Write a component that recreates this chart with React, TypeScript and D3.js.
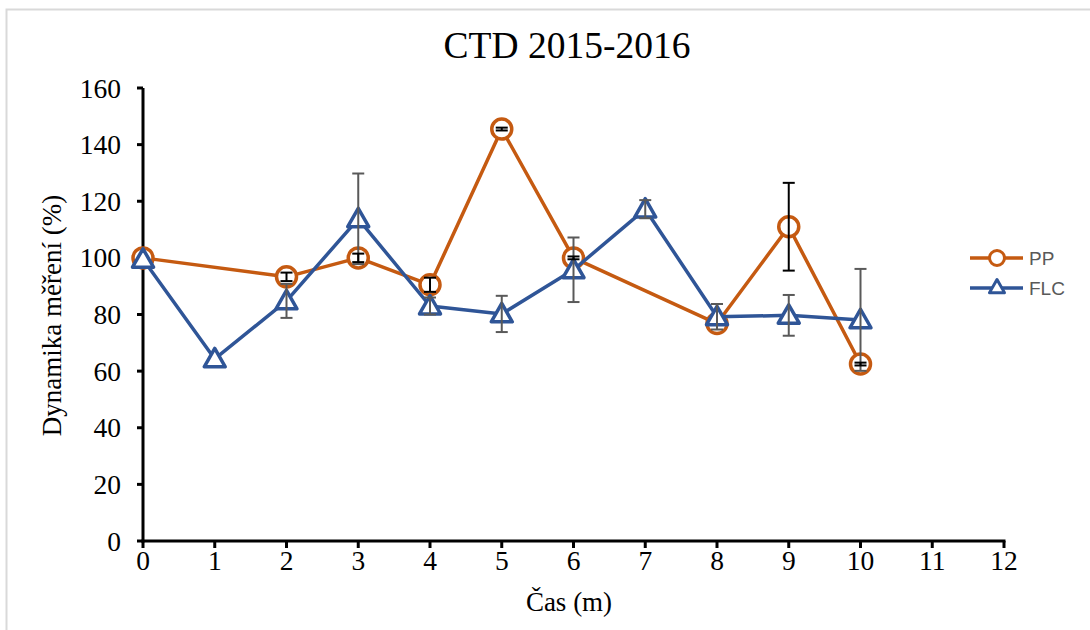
import React from "react";
import * as d3 from "d3";

const xTicks = [0, 1, 2, 3, 4, 5, 6, 7, 8, 9, 10, 11, 12];
const yTicks = [0, 20, 40, 60, 80, 100, 120, 140, 160];

const ppX = [0, 2, 3, 4, 5, 6, 8, 9, 10];
const ppY = [100, 93.3, 100, 90.5, 145.5, 100, 76.8, 111, 62.5];
const ppErr = [0, 1.5, 1.5, 2.5, 0.5, 0.5, 0, 15.5, 0.5];

const flcX = [0, 1, 2, 3, 4, 5, 6, 7, 8, 9, 10];
const flcY = [99.5, 64.3, 84.8, 113.8, 83, 80.2, 95.8, 117.2, 79.2, 79.7, 78.1];
const flcErr = [0, 0, 6, 16, 3, 6.4, 11.4, 3.2, 4.5, 7.2, 18];

const W = 1090, H = 630;
const left = 143, right = 1004, top = 88, bottom = 541;

export default function App() {
  const x = d3.scaleLinear().domain([0, 12]).range([left, right]);
  const y = d3.scaleLinear().domain([0, 160]).range([bottom, top]);
  const line = d3.line<[number, number]>().x(d => x(d[0])).y(d => y(d[1]));
  const pp = ppX.map((v, i) => [v, ppY[i]] as [number, number]);
  const flc = flcX.map((v, i) => [v, flcY[i]] as [number, number]);
  const orange = "#C55A11";
  const blue = "#2F5597";
  const tri = (cx: number, cy: number, s = 10.5) =>
    `M${cx},${cy - s} L${cx + s},${cy + s * 0.75} L${cx - s},${cy + s * 0.75} Z`;
  const errBar = (xv: number, yv: number, e: number, color: string, key: string) => {
    if (!e) return null;
    const px = x(xv);
    return (
      <g key={key} stroke={color} strokeWidth={2}>
        <line x1={px} x2={px} y1={y(yv + e)} y2={y(yv - e)} />
        <line x1={px - 6} x2={px + 6} y1={y(yv + e)} y2={y(yv + e)} />
        <line x1={px - 6} x2={px + 6} y1={y(yv - e)} y2={y(yv - e)} />
      </g>
    );
  };
  const serif = "Liberation Serif, Times New Roman, serif";
  return (
    <svg width={W} height={H} style={{ position: "absolute", left: 0, top: 0, display: "block" }}>
      <rect x={0} y={0} width={W} height={H} fill="#fff" />
      <rect x={6.5} y={9.5} width={1200} height={800} fill="#fff" stroke="#d9d9d9" strokeWidth={2} />
      <text x={567} y={58} textAnchor="middle" fontFamily={serif} fontSize={37.5} fill="#000">CTD 2015-2016</text>
      {yTicks.map(t => (
        <g key={"y" + t}>
          <line x1={left - 6} x2={left} y1={y(t)} y2={y(t)} stroke="#000" strokeWidth={3} />
          <text x={121} y={y(t) + 9.5} textAnchor="end" fontFamily={serif} fontSize={27.5} fill="#000">{t}</text>
        </g>
      ))}
      {xTicks.map(t => (
        <g key={"x" + t}>
          <line x1={x(t)} x2={x(t)} y1={bottom} y2={bottom + 7} stroke="#000" strokeWidth={3} />
          <text x={x(t)} y={bottom + 29} textAnchor="middle" fontFamily={serif} fontSize={27.5} fill="#000">{t}</text>
        </g>
      ))}
      <line x1={left} x2={left} y1={top} y2={bottom + 1.5} stroke="#000" strokeWidth={3} />
      <line x1={left - 1.5} x2={right + 1.5} y1={bottom} y2={bottom} stroke="#000" strokeWidth={3} />
      <text x={569} y={611} textAnchor="middle" fontFamily={serif} fontSize={27} fill="#000">Čas (m)</text>
      <text transform={`translate(61,${(top + bottom) / 2 + 1}) rotate(-90)`} textAnchor="middle" fontFamily={serif} fontSize={27} fill="#000">Dynamika měření (%)</text>

      <path d={line(pp) || ""} fill="none" stroke={orange} strokeWidth={3.5} strokeLinejoin="round" />
      {pp.map((d, i) => (
        <circle key={"pc" + i} cx={x(d[0])} cy={y(d[1])} r={10} fill="#fff" stroke={orange} strokeWidth={3.5} />
      ))}
      <path d={line(flc) || ""} fill="none" stroke={blue} strokeWidth={3.5} strokeLinejoin="round" />
      {flc.map((d, i) => (
        <path key={"ft" + i} d={tri(x(d[0]), y(d[1]))} fill="#fff" stroke={blue} strokeWidth={3.5} strokeLinejoin="round" />
      ))}
      {flc.map((d, i) => errBar(d[0], d[1], flcErr[i], "#595959", "fe" + i))}
      {pp.map((d, i) => errBar(d[0], d[1], ppErr[i], "#000", "pe" + i))}

      <g>
        <line x1={970} x2={1023} y1={258} y2={258} stroke={orange} strokeWidth={3.5} />
        <circle cx={997} cy={258} r={7.5} fill="#fff" stroke={orange} strokeWidth={3} />
        <text x={1029} y={265} fontFamily="Liberation Sans, Arial, sans-serif" fontSize={19} fill="#595959">PP</text>
        <line x1={970} x2={1023} y1={288} y2={288} stroke={blue} strokeWidth={3.5} />
        <path d={tri(997, 287, 7.5)} fill="#fff" stroke={blue} strokeWidth={3} strokeLinejoin="round" />
        <text x={1029} y={295} fontFamily="Liberation Sans, Arial, sans-serif" fontSize={19} fill="#595959">FLC</text>
      </g>
    </svg>
  );
}
